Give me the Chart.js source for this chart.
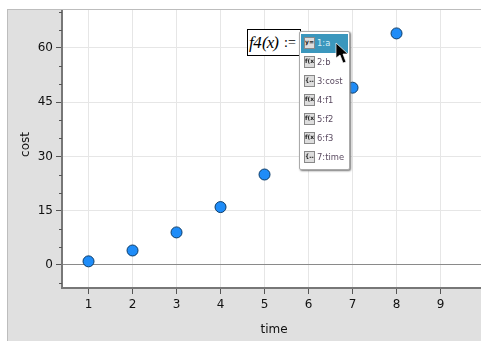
<!DOCTYPE html>
<html>
<head>
<meta charset="utf-8">
<script src="https://cdn.jsdelivr.net/npm/chart.js@4"></script>
<style>
  html, body { margin: 0; padding: 0; background: #fff; overflow: hidden; }
  #wrap { position: relative; width: 481px; height: 341px; }
  #myChart { display: block; }
  #formula { position: absolute; left: 247px; top: 29px; width: 52px; height: 25px; border: 1px solid #000; background: #fff;
             font: italic 17px "Liberation Serif", serif; line-height: 25px; white-space: nowrap; }
  #formula b { position: absolute; left: 1px; font-weight: normal; letter-spacing: -0.5px; }
  #formula i { position: absolute; left: 14px; font-size: 17px; letter-spacing: -1px; }
  #formula span { position: absolute; left: 36px; font: 14px "Liberation Serif", serif; line-height: 25px; }
  #menu { position: absolute; left: 299px; top: 31px; width: 49px; height: 137px; background: #fff; border: 1px solid #aaa;
          border-radius: 2px; box-shadow: 1px 1px 2px #777; font: 8.4px "DejaVu Sans", sans-serif; color: #5a4a60; }
  .row { position: absolute; left: 1px; width: 47px; height: 19px; line-height: 19px; white-space: nowrap; }
  .row.sel { background: #3b97bd; color: #d8eef6; }
  .ico { position: absolute; left: 3px; top: 3px; width: 11px; height: 12px; line-height: 12px; background: #ddd; border: 1px solid #888; box-sizing: border-box;
         font: bold 6px "DejaVu Sans", sans-serif; color: #222; text-align: center; overflow: hidden; }
  .lbl { position: absolute; left: 16px; }
  #cursor { position: absolute; left: 335px; top: 42px; }
</style>
</head>
<body>
<div id="wrap">
  <canvas id="myChart" width="481" height="341"></canvas>
  <div id="formula"><b>f4</b><i>(x)</i><span>:=</span></div>
  <div id="menu"></div>
  <svg id="cursor" width="16" height="24"><path d="M1 1 L1 16 L5 13 L8 21 L11 20 L8 12 L13 12 Z" fill="#000" stroke="#fff" stroke-width="0.7"/></svg>
</div>
<script>
const categories = [1, 2, 3, 4, 5, 6, 7, 8];
const costValues = [1, 4, 9, 16, 25, 36, 49, 64];
const xTicks = [1, 2, 3, 4, 5, 6, 7, 8, 9];
const yTicks = [0, 15, 30, 45, 60];
const yMinorTicks = [-5, 5, 10, 20, 25, 35, 40, 50, 55, 65, 70];
const menuItems = [['y=5', '1:a'], ['f(x)', '2:b'], ['{…}', '3:cost'], ['f(x)', '4:f1'], ['f(x)', '5:f2'], ['f(x)', '6:f3'], ['{…}', '7:time']];

// axis titles sit a little off centre in the original
const nudgeTitle = (scale, dx, dy) => {
    const draw = scale.drawTitle;
    scale.drawTitle = function () {
        this.ctx.save();
        this.ctx.translate(dx, dy);
        draw.call(this);
        this.ctx.restore();
    };
};

// grey panel, axis lines and the small ticks
const panel = {
    id: 'panel',
    afterLayout: (chart) => {
        nudgeTitle(chart.scales.x, 2, 0);
        nudgeTitle(chart.scales.y, 0, -4);
    },
    beforeDraw: (chart) => {
        const {ctx, chartArea: a} = chart;
        ctx.save();
        ctx.fillStyle = '#e0e0e0';
        ctx.fillRect(7, 9, 474, 332);
        ctx.fillStyle = '#bdbdbd';
        ctx.fillRect(7, 9, 474, 1);
        ctx.fillRect(7, 9, 1, 332);
        ctx.fillStyle = '#fff';
        ctx.fillRect(a.left, a.top, a.right - a.left, a.bottom - a.top);
        ctx.restore();
    },
    afterDatasetsDraw: (chart) => {
        const {ctx, chartArea: a, scales} = chart;
        ctx.save();
        ctx.strokeStyle = '#777';
        ctx.lineWidth = 2;
        ctx.beginPath();
        ctx.moveTo(a.left - 1, a.top);
        ctx.lineTo(a.left - 1, a.bottom + 1);
        ctx.lineTo(a.right, a.bottom + 1);
        ctx.stroke();
        ctx.lineWidth = 1;
        ctx.strokeStyle = '#555';
        ctx.beginPath();
        yMinorTicks.forEach(v => {
            const y = Math.round(scales.y.getPixelForValue(v)) + 0.5;
            ctx.moveTo(a.left - 4, y);
            ctx.lineTo(a.left - 1, y);
        });
        ctx.stroke();
        ctx.restore();
    }
};

const config = {
    type: 'scatter',
    data: {
        datasets: [{
            label: 'cost',
            data: categories.map((c, i) => ({x: c, y: costValues[i]})),
            pointRadius: 5.5,
            pointHoverRadius: 5.5,
            pointBackgroundColor: '#1e8cf8',
            pointBorderColor: '#0c3c68',
            pointBorderWidth: 1
        }]
    },
    options: {
        responsive: false,
        animation: false,
        layout: {autoPadding: false, padding: {left: 0, top: 10, right: 0, bottom: 0}},
        plugins: {legend: {display: false}, tooltip: {enabled: false}},
        scales: {
            x: {
                type: 'linear',
                min: 0.42,
                max: 9.92,
                afterBuildTicks: s => { s.ticks = xTicks.map(v => ({value: v})); },
                afterFit: s => { s.height = 54; s.paddingLeft = 0; s.paddingRight = 0; },
                border: {display: false},
                grid: {color: '#e6e6e6', tickColor: '#555', tickLength: 7},
                ticks: {color: '#111', font: {family: 'DejaVu Sans', size: 12}, maxRotation: 0, padding: 4},
                title: {display: true, text: 'time', color: '#111', font: {family: 'DejaVu Sans', size: 12}, padding: {top: 6, bottom: 4}}
            },
            y: {
                min: -6.09,
                max: 70.47,
                afterBuildTicks: s => { s.ticks = yTicks.map(v => ({value: v})); },
                afterFit: s => { s.width = 63; s.paddingTop = 0; s.paddingBottom = 0; },
                border: {display: false},
                grid: {color: c => c.tick && c.tick.value === 0 ? '#8a8a8a' : '#e6e6e6', tickColor: '#555', tickLength: 7},
                ticks: {color: '#111', font: {family: 'DejaVu Sans', size: 12}, padding: 3},
                title: {display: true, text: 'cost', color: '#111', font: {family: 'DejaVu Sans', size: 12}, padding: {top: 19, bottom: 0}}
            }
        }
    },
    plugins: [panel]
};

const myChart = new Chart(document.getElementById('myChart'), config);

const menu = document.getElementById('menu');
menuItems.forEach((item, i) => {
    const row = document.createElement('div');
    row.className = 'row' + (i === 0 ? ' sel' : '');
    row.style.top = (2 + i * 19) + 'px';
    row.innerHTML = '<span class="ico">' + item[0] + '</span><span class="lbl">' + item[1] + '</span>';
    menu.appendChild(row);
});
</script>
</body>
</html>
